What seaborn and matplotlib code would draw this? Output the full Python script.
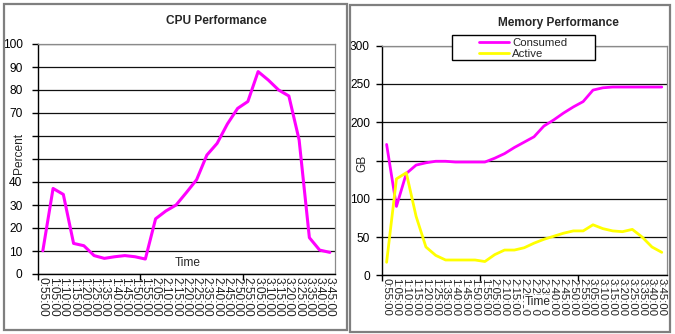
import matplotlib
matplotlib.use("Agg")
import matplotlib.pyplot as plt
from matplotlib.patches import Rectangle
import numpy as np
import pandas as pd
import seaborn as sns

times = ['0:55:00', '1:05:00', '1:10:00', '1:15:00', '1:20:00', '1:25:00', '1:35:00',
         '1:40:00', '1:45:00', '1:50:00', '1:55:00', '2:05:00', '2:10:00', '2:15:00',
         '2:20:00', '2:25:00', '2:35:00', '2:40:00', '2:45:00', '2:50:00', '2:55:00',
         '3:05:00', '3:10:00', '3:15:00', '3:20:00', '3:25:00', '3:35:00', '3:40:00',
         '3:45:00']
cpu_percent = [10.1, 37.2, 34.6, 13.3, 12.3, 8.0, 6.8, 7.5, 8.0, 7.5, 6.5, 24.0, 27.4,
               30.0, 35.4, 41.0, 51.7, 56.8, 65.2, 72.0, 75.0, 88.0, 84.3, 80.0, 77.4,
               58.3, 15.8, 10.4, 9.4]
consumed_gb = [171, 90, 133, 144, 147, 149, 149, 148, 148, 148, 148, 153, 159, 167, 174,
               181, 195, 203, 212, 220, 227, 242, 245, 246, 246, 246, 246, 246, 246]
active_gb = [17, 126, 134, 77, 37, 26, 20, 20, 20, 20, 18, 27, 33, 33, 36, 42, 47, 51,
             55, 58, 58, 66, 61, 58, 57, 60, 50, 37, 30]
cpu_yticks = [0, 10, 20, 30, 40, 50, 60, 70, 80, 90, 100]
cpu_yticklabels = ['0', '10', '20', '30', '40', '', '', '70', '80', '90', '100']
mem_yticks = [0, 50, 100, 150, 200, 250, 300]
mem_yticklabels = ['0', '50', '100', '', '200', '250', '300']

sns.set_theme(style='white')
plt.rcParams['font.family'] = ['Liberation Sans', 'DejaVu Sans']

df = pd.DataFrame({'idx': np.arange(len(times)), 'time': times, 'cpu': cpu_percent,
                   'consumed': consumed_gb, 'active': active_gb})

W, H = 675, 334
fig = plt.figure(figsize=(W / 100, H / 100), dpi=100)
fig.patch.set_facecolor('white')

def fx(px):
    return px / W

def fy(py):
    return 1 - py / H

# panel borders
for (x0, y0, x1, y1) in [(4, 4, 347, 330), (350, 5, 670, 332)]:
    fig.patches.append(Rectangle((fx(x0), fy(y1)), fx(x1 - x0), (y1 - y0) / H,
                                 transform=fig.transFigure, fill=False,
                                 edgecolor='#7f7f7f', linewidth=1.6, zorder=0))

ax1 = fig.add_axes([fx(37.7), fy(274), fx(335 - 37.7), (274 - 44) / H])
ax2 = fig.add_axes([fx(381.7), fy(275.3), fx(666.7 - 381.7), (275.3 - 45.7) / H])

sns.lineplot(data=df, x='idx', y='cpu', ax=ax1, color='#FF00FF', linewidth=2.2)
sns.lineplot(data=df, x='idx', y='consumed', ax=ax2, color='#FF00FF', linewidth=2.0,
             label='Consumed', legend=False)
sns.lineplot(data=df, x='idx', y='active', ax=ax2, color='#FFFF00', linewidth=2.0,
             label='Active', legend=False)

def style(ax, yticks, ylabels, ymax, ypad, fs_x):
    ax.set_xlim(-0.5, len(times) - 0.5)
    ax.set_ylim(0, ymax)
    ax.set_yticks(yticks)
    ax.set_yticklabels(ylabels, fontsize=8.6, color='black')
    ax.set_xticks(np.arange(len(times)))
    ax.set_xticklabels(times, rotation=270, fontsize=fs_x, color='#222222')
    ax.set_xticks([-0.5, 9.5, 19.5], minor=True)
    ax.tick_params(axis='x', which='major', length=0, pad=2)
    ax.tick_params(axis='x', which='minor', length=4, width=1, color='black',
                   direction='out', bottom=True)
    ax.tick_params(axis='y', which='major', length=4, width=1, color='black',
                   direction='out', left=True, pad=ypad)
    ax.yaxis.grid(True, color='#111111', linewidth=0.9)
    ax.xaxis.grid(False)
    for s in ['top', 'right']:
        ax.spines[s].set_color('#8a8a8a')
        ax.spines[s].set_linewidth(0.9)
    for s in ['left', 'bottom']:
        ax.spines[s].set_color('black')
        ax.spines[s].set_linewidth(1.0)
    ax.set_xlabel('')
    ax.set_ylabel('')
    ax.set_facecolor('white')

style(ax1, cpu_yticks, cpu_yticklabels, 100, 7, 8.6)
style(ax2, mem_yticks, mem_yticklabels, 300, 4.5, 8.2)

# axis labels
fig.text(fx(19), fy(153), 'Percent', rotation=90, ha='center', va='center', fontsize=8.6)
fig.text(fx(188), fy(263), 'Time', ha='center', va='center', fontsize=8.6)
fig.text(fx(362), fy(163), 'GB', rotation=90, ha='center', va='center', fontsize=8.6)
fig.text(fx(538), fy(302), 'Time', ha='center', va='center', fontsize=8.6,
         bbox=dict(boxstyle='square,pad=0.1', facecolor='white', edgecolor='none'),
         zorder=10)

# titles
fig.text(fx(216), fy(21), 'CPU Performance', ha='center', va='center', fontsize=8.6,
         fontweight='bold')
fig.text(fx(558.5), fy(23), 'Memory Performance', ha='center', va='center', fontsize=8.6,
         fontweight='bold')

# legend
fig.patches.append(Rectangle((fx(452), fy(60)), fx(595 - 452), (60 - 35) / H,
                             transform=fig.transFigure, facecolor='white',
                             edgecolor='black', linewidth=1.0, zorder=5))
handles, labels = ax2.get_legend_handles_labels()
leg = fig.legend(handles, labels, loc='upper left',
                 bbox_to_anchor=(fx(479), fy(37.5)), frameon=False, fontsize=8.2,
                 handlelength=2.6, handletextpad=0.3, borderpad=0.0,
                 labelspacing=0.1, borderaxespad=0)
leg.set_zorder(6)

fig.savefig('out.png', dpi=100, facecolor='white')
